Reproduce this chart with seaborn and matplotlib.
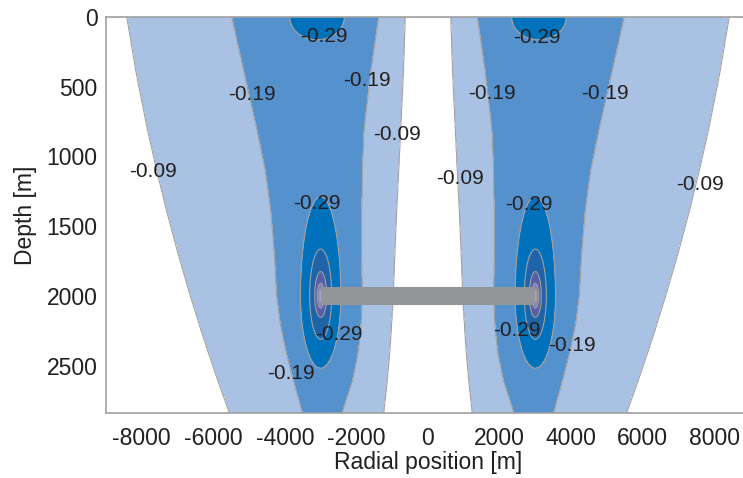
import numpy as np
import seaborn as sns
import matplotlib.pyplot as plt

# contour levels shown in the chart
levels = [-0.69, -0.59, -0.49, -0.39, -0.29, -0.19, -0.09]
band_colors = ['#a4a6d2', '#7e80bb', '#5a5ea6', '#1f64a8', '#0071bb',
               '#5591cd', '#a9c2e4', '#ffffff']

# well / source positions (radial position, depth)
source_x = [-3000, 3000]
source_depth = 2000
well_x = [-3000, 3000]

# contour boundaries of the left lobe (right lobe is mirrored)
bound_depth = [0, 400, 800, 1100, 1400, 1700, 2000, 2200, 2400, 2600, 2840]
outer_009 = [-8420, -8157, -7848, -7585, -7297, -6983, -6643, -6401, -6149, -5884, -5552]
outer_019 = [-5490, -5140, -4790, -4550, -4390, -4295, -4230, -4130, -3970, -3770, -3510]
inner_019 = [-1374, -1600, -1780, -1830, -1848, -1850, -1835, -1865, -1940, -2100, -2400]
inner_009 = [-638, -690, -765, -820, -880, -930, -975, -1020, -1070, -1140, -1240]

# radii of the rings round each source: horizontal, upward, downward
ring_levels = [-0.69, -0.59, -0.49, -0.39, -0.29]
ring_side = [45, 92, 163, 305, 565]
ring_up = [45, 90, 174, 335, 712]
ring_down = [45, 88, 153, 311, 519]

# -0.29 cap at the surface above each source
cap_x = [-3100, 3100]
cap_halfwidth = 770
cap_depth = 165

xs = np.linspace(-9000, 9000, 901)
zs = np.linspace(0, 2840, 569)
X, Z = np.meshgrid(xs, zs)

# background field, row by row
bg = np.zeros_like(X)
for i, z in enumerate(zs):
    o9 = np.interp(z, bound_depth, outer_009)
    o19 = np.interp(z, bound_depth, outer_019)
    i19 = np.interp(z, bound_depth, inner_019)
    i9 = np.interp(z, bound_depth, inner_009)
    kx = [o9 - 1500, o9, o19, -3000, i19, i9, 0]
    kv = [-0.03, -0.09, -0.19, -0.24, -0.19, -0.09, -0.05]
    bg[i] = np.interp(-np.abs(xs), kx, kv)


def ring_field(dx, dz):
    r = np.hypot(dx, dz) + 1e-9
    c2 = (dx / r) ** 2
    s2 = (dz / r) ** 2
    radii = []
    for side, up, down in zip(ring_side, ring_up, ring_down):
        vert = np.where(dz < 0, up, down)
        radii.append(1.0 / np.sqrt(c2 / side ** 2 + s2 / vert ** 2))
    val = ring_levels[0] - 0.1 * (1 - r / radii[0])
    for k in range(len(radii) - 1):
        m = (r >= radii[k]) & (r < radii[k + 1])
        t = (r - radii[k]) / (radii[k + 1] - radii[k])
        val = np.where(m, ring_levels[k] + (ring_levels[k + 1] - ring_levels[k]) * t, val)
    val = np.where(r >= radii[-1], ring_levels[-1] + 0.3 * (r / radii[-1] - 1), val)
    return val


def cap_field(dx, z):
    rc = np.sqrt((dx / cap_halfwidth) ** 2 + (z / cap_depth) ** 2)
    return np.where(rc < 1, -0.29 + 0.03 * (rc - 1), -0.29 + 0.3 * (rc - 1))


field = bg.copy()
for sx in source_x:
    field = np.minimum(field, ring_field(X - sx, Z - source_depth))
for cx in cap_x:
    field = np.minimum(field, cap_field(X - cx, Z))

sns.set_theme(style='white')
plt.rcParams['font.family'] = ['Liberation Sans', 'DejaVu Sans']
plt.rcParams['axes.unicode_minus'] = False
txt = '#231f20'

fig = plt.figure(figsize=(7.43, 4.78), dpi=100)
ax = fig.add_axes([106 / 743, 65 / 478, 644 / 743, 396 / 478])

bounds = [-2] + levels + [1]
ax.contourf(X, Z, field, levels=bounds, colors=band_colors)
ax.contour(X, Z, field, levels=levels, colors='#a0a0a0', linewidths=0.8,
           linestyles='solid')

ax.plot(well_x, [source_depth, source_depth], color='#939598', lw=13,
        solid_capstyle='butt')

labels = [(-2911, 141, '-0.29'), (-4930, 554, '-0.19'), (-1698, 452, '-0.19'),
          (-860, 846, '-0.09'), (-7676, 1109, '-0.09'), (-3095, 1336, '-0.29'),
          (3031, 146, '-0.29'), (1774, 547, '-0.19'), (4958, 547, '-0.19'),
          (908, 1156, '-0.09'), (7593, 1200, '-0.09'), (2816, 1348, '-0.29'),
          (-2491, 2280, '-0.29'), (-3841, 2554, '-0.19'), (2492, 2251, '-0.29'),
          (4028, 2356, '-0.19')]
for lx, lz, s in labels:
    ax.text(lx, lz, s, fontsize=15, color=txt, ha='center', va='center')

ax.set_xlim(-9000, 9000)
ax.set_ylim(2840, 0)
ax.set_xticks(range(-8000, 8001, 2000))
ax.set_yticks(range(0, 2501, 500))
ax.tick_params(length=0, labelsize=16.5, labelcolor=txt)
ax.tick_params(axis='x', pad=10)
ax.tick_params(axis='y', pad=6)
ax.set_xlabel('Radial position [m]', fontsize=16.5, color=txt, labelpad=1)
ax.set_ylabel('Depth [m]', fontsize=16.5, color=txt, labelpad=7)
for sp in ax.spines.values():
    sp.set_color('#9d9fa2')
    sp.set_linewidth(1.2)

fig.savefig('out.png', dpi=100)
